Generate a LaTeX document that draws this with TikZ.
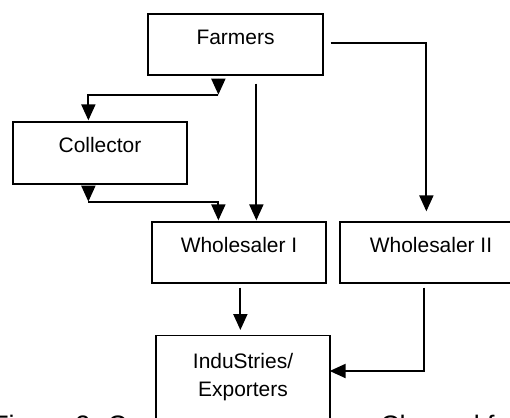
\documentclass[tikz,border=0pt]{standalone}
\usepackage{fontspec}
\setmainfont{Liberation Sans}
\usetikzlibrary{calc,arrows.meta}

\newcommand{\pxu}{0.025cm}

\tikzset{
  box/.style={draw,line width=0.9pt,fill=white,minimum height=61*\pxu,
    text height=1em,text depth=1em,inner sep=0pt,
    font=\fontsize{14.9}{20}\selectfont},
  conn/.style={line width=1.4pt},
  arr/.style={conn,-{Triangle[length=16*\pxu,width=14*\pxu]}},
  captxt/.style={anchor=base west,inner sep=0pt,font=\fontsize{19}{23}\selectfont}
}

\begin{document}
\begin{tikzpicture}[x=\pxu,y=-\pxu]
        \clip (0,0) rectangle (510,418);
        % caption, cut off by the page
        \node[captxt] (cap1) at (-8,434) {Figure 2: C};
        \node[captxt] (cap2) at (380,434) {Channel f};
        % boxes
        \node[box,minimum width=175*\pxu] (farm) at (235.5,44.5) {Farmers};
        \node[box,minimum width=174*\pxu,minimum height=62*\pxu] (coll) at (100,153) {Collector};
        \node[box,minimum width=174*\pxu] (whI) at (239,252.5) {Wholesaler I};
        \node[box,minimum width=182*\pxu] (whII) at (431,252.5) {Wholesaler II};
        \node[box,anchor=north,minimum width=174*\pxu,minimum height=110*\pxu] (ind) at (243,335) {};
        \node[align=center,inner sep=0pt,font=\fontsize{14.9}{20}\selectfont] (indtxt)
          at (243,377.5) {InduStries/\\Exporters};
        % connectors
        \coordinate (fc) at ($(farm.south west)+(71,19)$);
        \draw[arr] ($(farm.south west)+(71,3)$) -- (fc);
        \draw[arr] (fc) -| ($(coll.north west)+(76,-1)$);
        \coordinate (cw) at ($(coll.south west)+(76,17)$);
        \draw[arr] ($(coll.south west)+(76,2)$) -- (cw);
        \draw[arr] (cw) -| ($(whI.north west)+(67,-1)$);
        \draw[arr] ($(farm.south west)+(109,8)$) -- ($(whI.north west)+(105,-1)$);
        \draw[arr] ($(farm.east)+(7,-1.5)$) -| ($(whII.north west)+(87,-10)$);
        \draw[arr] ($(whI.south west)+(89,4)$) -- ($(ind.north west)+(85,-5)$);
        \draw[arr] ($(whII.south west)+(85,4)$) |- ($(ind.north east)+(-1,36)$);
\end{tikzpicture}
\end{document}
